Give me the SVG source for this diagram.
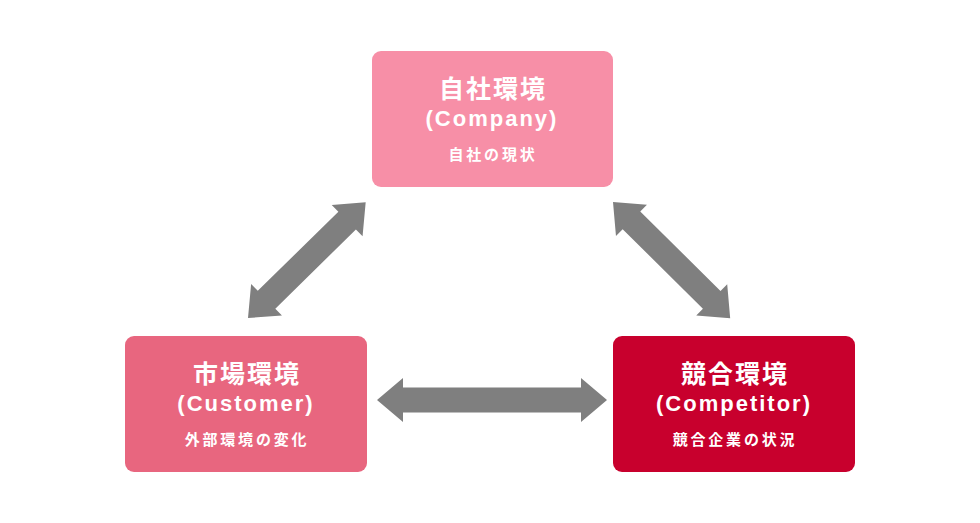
<svg xmlns="http://www.w3.org/2000/svg" width="980" height="523" viewBox="0 0 980 523">
<style>
.t{font-family:"Noto Sans CJK JP","Noto Sans",sans-serif;font-weight:700;fill:#fff;text-anchor:middle}
.h{font-size:25px;letter-spacing:2px;font-weight:600}
.e{font-family:"Liberation Sans",Arial,sans-serif;font-weight:700;font-size:22px;letter-spacing:2px;fill:#fff;text-anchor:middle}
.s{font-size:15px;letter-spacing:2.8px;font-weight:600}
.arr{fill:#7f7f7f}
</style>
<rect width="980" height="523" fill="#fff"/>
<g id="connectors">
<path class="arr" transform="translate(377,400)" d="M0,0 L26,-22 L26,-12.5 L204,-12.5 L204,-22 L230,0 L204,22 L204,12.5 L26,12.5 L26,22 Z"/>
<path class="arr" transform="translate(248,318) rotate(-44.5)" d="M0,0 L26,-22 L26,-12.5 L139,-12.5 L139,-22 L165,0 L139,22 L139,12.5 L26,12.5 L26,22 Z"/>
<path class="arr" transform="translate(613,202) rotate(44.75)" d="M0,0 L26,-22 L26,-12.5 L139,-12.5 L139,-22 L165,0 L139,22 L139,12.5 L26,12.5 L26,22 Z"/>
</g>
<g id="company">
<rect x="372" y="51" width="241" height="136" rx="9" fill="#f78fa7"/>
<text class="t h" x="493" y="98">自社環境</text>
<text class="e" x="492" y="126">(Company)</text>
<text class="t s" x="493" y="160">自社の現状</text>
</g>
<g id="customer">
<rect x="125" y="336" width="242" height="136" rx="9" fill="#e8667f"/>
<text class="t h" x="247" y="383">市場環境</text>
<text class="e" x="246" y="411">(Customer)</text>
<text class="t s" x="247" y="445">外部環境の変化</text>
</g>
<g id="competitor">
<rect x="613" y="336" width="242" height="136" rx="9" fill="#c8002d"/>
<text class="t h" x="735" y="383">競合環境</text>
<text class="e" x="734" y="411">(Competitor)</text>
<text class="t s" x="735" y="445">競合企業の状況</text>
</g>
</svg>
